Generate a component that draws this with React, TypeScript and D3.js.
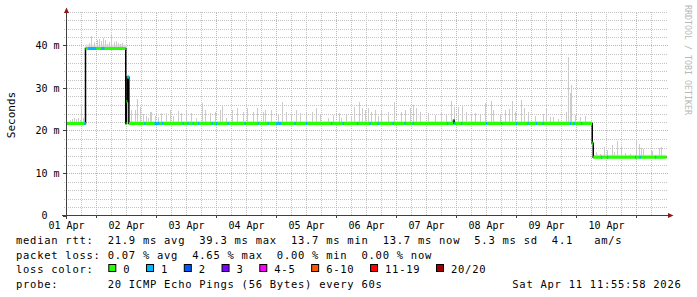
import React from 'react';
import * as d3 from 'd3';

const W = 697;
const H = 297;
const START = new Date(2026, 3, 1, 12, 0, 0);
const END = new Date(2026, 3, 11, 12, 0, 0);

// median rtt as steps: [hours since start, ms]
const medianSteps: [number, number][] = [
  [0, 21.65], [7.6, 39.3], [23.7, 21.65], [24.0, 26.8], [24.35, 32.6], [24.95, 21.65],
  [154.8, 22.4], [155.1, 21.65], [210.3, 17.0], [210.7, 13.7], [240, 13.7],
];

// intervals (hours) with 1 lost ping
const loss1Intervals: [number, number][] = [
  [0, 0.4], [7.1, 7.6], [8.6, 11.9], [13.9, 15.2], [24.35, 24.95], [31.1, 31.6], [35.2, 37.2],
  [38.2, 38.7], [46.4, 46.9], [48.4, 48.9], [50.4, 50.9], [52.6, 53.1], [58, 58.5], [59.8, 60.3],
  [64.4, 64.9], [71.2, 71.7], [76.4, 76.9], [80.4, 80.9], [83.9, 85.9], [91.2, 91.7], [95.8, 96.3],
  [105.8, 106.3], [110.4, 110.9], [116.2, 116.7], [121.2, 121.7], [124.4, 124.9], [130.4, 130.9],
  [135.2, 135.7], [138.4, 138.9], [152.2, 152.7], [155.2, 155.7], [157.8, 158.3], [167.8, 168.3],
  [173.8, 174.3], [179.8, 180.3], [184.4, 184.9], [187.8, 188.3], [190.4, 190.9], [201.4, 201.9],
  [202.8, 203.3], [205.8, 206.3], [213.8, 214.3], [216.2, 216.7], [227.4, 227.9], [229.2, 229.7],
  [235.4, 235.9],
];

// smoke spikes: [hours since start, max rtt ms]
const smokeSpikes: [number, number][] = [
  [1.2, 22.5], [2.0, 22.7], [2.8, 22.9], [3.6, 22.7], [4.4, 22.9], [5.2, 22.5], [5.9, 25.5], [6.4, 22.9],
  [8.8, 40.6], [9.9, 42.2], [10.8, 40.8], [12.0, 41.3], [12.9, 41.5], [13.6, 41.1], [14.4, 41.8],
  [15.2, 41.3], [16.0, 40.4], [16.8, 40.8], [17.9, 42.7], [18.8, 40.8], [19.6, 41.1], [20.4, 40.6],
  [21.2, 40.4], [22.0, 40.6],
  [25.9, 24.8], [27.2, 24.8], [28.2, 27.5], [29.2, 25.5], [30.4, 23.9], [31.6, 23.4], [32.4, 22.9],
  [33.2, 24.4], [33.9, 24.4], [35.2, 23.4], [36.5, 23.2], [37.9, 24.1], [39.9, 24.1], [41.2, 24.8],
  [42.5, 23.4], [44.5, 24.6], [45.9, 24.1], [47.9, 24.6], [49.9, 24.1], [51.9, 22.9], [54.2, 26.5],
  [55.2, 24.8], [57.2, 24.1], [59.2, 24.4], [61.2, 24.8], [62.1, 26.0], [63.9, 22.9], [66.1, 24.8],
  [68.3, 25.3], [70.5, 24.4], [72.1, 25.3], [74.5, 24.4], [76.1, 25.3], [78.5, 24.4], [79.2, 24.8],
  [81.9, 24.8], [84.5, 23.6], [86.2, 26.7], [87.6, 24.4], [89.9, 23.6], [91.9, 24.8], [93.2, 24.1],
  [95.9, 24.1], [98.1, 24.4], [99.9, 25.3], [101.2, 23.6], [104.5, 22.9], [106.4, 23.6], [108.8, 24.1],
  [109.9, 22.9], [111.9, 23.6], [113.9, 23.4], [114.9, 25.5], [116.9, 26.8], [118.1, 25.3], [119.2, 24.8],
  [120.5, 25.3], [121.9, 24.4], [123.2, 24.8], [124.5, 23.4], [125.6, 24.8], [128.5, 24.4], [130.9, 26.8],
  [133.6, 24.4], [135.2, 24.8], [137.2, 25.3], [138.5, 26.0], [139.9, 25.3], [141.6, 24.4], [144.5, 24.1],
  [147.2, 23.6], [149.9, 24.4], [151.6, 23.9], [153.9, 27.0], [155.2, 25.5], [156.5, 25.5], [158.0, 26.0],
  [159.9, 24.4], [161.6, 23.6], [163.2, 24.1], [165.2, 23.6], [167.2, 26.5], [169.6, 26.9], [170.5, 24.8],
  [173.2, 23.9], [175.2, 24.8], [176.9, 25.1], [178.3, 26.9], [179.2, 24.4], [181.9, 27.2], [182.9, 25.3],
  [184.5, 24.4], [187.2, 23.4], [190.5, 23.9], [191.9, 25.1], [193.2, 23.2], [194.5, 23.2], [196.5, 22.7],
  [199.9, 24.4], [200.5, 37.3], [201.2, 28.8], [201.8, 30.7], [203.2, 23.6], [205.2, 23.2], [207.2, 23.4],
  [211.9, 15.0], [213.2, 14.5], [214.9, 16.2], [216.3, 15.4], [218.1, 16.6], [218.9, 15.0], [220.3, 17.6],
  [221.9, 16.2], [223.2, 14.8], [225.2, 14.5], [227.9, 17.9], [228.9, 16.75], [229.9, 15.8], [230.5, 15.65],
  [233.6, 15.2], [234.3, 15.2], [236.9, 15.8], [237.6, 16.2],
];

// low smoke band just above the median: [from h, to h, ms above median]
const smokeFloor: [number, number, number][] = [
  [0, 7.6, 0.5], [7.6, 23.7, 0.9], [24.95, 210.3, 0.6], [210.7, 240, 0.6],
];

const yTicksMajor = [0, 10, 20, 30, 40];
const yMax = 48;

const medianStats = ['21.9 ms avg', '39.3 ms max', '13.7 ms min', '13.7 ms now', '5.3 ms sd', '4.1   am/s'];
const lossStats = ['0.07 % avg', '4.65 % max', '0.00 % min', '0.00 % now'];
const lossLabels = ['0', '1', '2', '3', '4-5', '6-10', '11-19', '20/20'];
const lossColors = ['#26ff00', '#00b8ff', '#0059ff', '#7e00ff', '#ff00ff', '#ff5500', '#ff0000', '#a10000'];
const probeText = '20 ICMP Echo Pings (56 Bytes) every 60s';
const stampText = 'Sat Apr 11 11:55:58 2026';

const MONO = "'DejaVu Sans Mono', monospace";

const hToDate = (h: number) => new Date(START.getTime() + h * 3600e3);

function medianAt(h: number): number {
  let v = medianSteps[0][1];
  for (const [sh, sv] of medianSteps) {
    if (sh <= h) v = sv;
    else break;
  }
  return v;
}

export default function App() {
  const x = d3.scaleTime().domain([START, END]).range([66.5, 666.5]);
  const y = d3.scaleLinear().domain([0, yMax]).range([215.5, 11.5]);
  const X = (h: number) => x(hToDate(h));

  const minorV = d3.timeHour.every(6)!.range(START, END).filter((d) => d.getHours() !== 0 && d > START);
  const majorV = d3.timeDay.range(START, END);
  const dayLabels = d3.timeDay
    .range(d3.timeDay.floor(START), END)
    .map((d) => d3.timeHour.offset(d, 12))
    .filter((d) => d < END);
  const fmt = d3.timeFormat('%d %b');

  const minorH = d3.range(2, yMax + 0.1, 2).filter((v) => v % 10 !== 0);

  const stepLine = d3
    .line<[number, number]>()
    .x((d) => X(d[0]))
    .y((d) => y(d[1]))
    .curve(d3.curveStepAfter);

  const floorArea = (seg: [number, number, number]) => {
    const v = medianAt(seg[0]);
    return { x0: X(seg[0]), x1: X(seg[1]), y0: y(v), y1: y(v + seg[2]) };
  };

  // legend rows
  const cw = 7.05;
  const lx = 16;
  const row1 = 'median rtt:  ' + medianStats.join('  ');
  const row2 = 'packet loss: ' + lossStats.join('  ');
  const boxes: { bx: number; tx: number; label: string; color: string }[] = [];
  let bx = 108.3;
  lossLabels.forEach((label, i) => {
    const tx = bx + 15;
    boxes.push({ bx, tx, label, color: lossColors[i] });
    bx = tx + label.length * cw + 15.7;
  });

  const textStyle: React.CSSProperties = { whiteSpace: 'pre' };

  return (
    <svg
      width={W}
      height={H}
      viewBox={`0 0 ${W} ${H}`}
      style={{ position: 'absolute', left: 0, top: 0, background: '#ffffff' }}
      xmlns="http://www.w3.org/2000/svg"
    >
      <rect x={0} y={0} width={W} height={H} fill="#ffffff" />

      {/* minor grid */}
      <g stroke="#c4c4c4" strokeWidth={1} strokeDasharray="1,1" shapeRendering="crispEdges">
        {minorH.map((v) => (
          <line key={'mh' + v} x1={64} x2={668} y1={Math.round(y(v)) + 0.5} y2={Math.round(y(v)) + 0.5} />
        ))}
        {minorV.map((d) => (
          <line key={'mv' + d.getTime()} x1={Math.floor(x(d)) + 0.5} x2={Math.floor(x(d)) + 0.5} y1={215} y2={12} />
        ))}
      </g>
      {/* major grid */}
      <g stroke="#e8a4a4" strokeWidth={1} strokeDasharray="1,1" shapeRendering="crispEdges">
        {yTicksMajor.filter((v) => v > 0).map((v) => (
          <line key={'Mh' + v} x1={63} x2={668} y1={Math.round(y(v)) + 0.5} y2={Math.round(y(v)) + 0.5} />
        ))}
        {majorV.map((d) => (
          <line key={'Mv' + d.getTime()} x1={Math.floor(x(d)) + 0.5} x2={Math.floor(x(d)) + 0.5} y1={218} y2={12} />
        ))}
      </g>

      {/* smoke floor band */}
      <g fill="#e0e0e0">
        {smokeFloor.map((s, i) => {
          const a = floorArea(s);
          return <rect key={'f' + i} x={a.x0} y={a.y1} width={a.x1 - a.x0} height={a.y0 - a.y1} />;
        })}
      </g>
      {/* smoke spikes */}
      <g fill="#cbcbcb" shapeRendering="crispEdges">
        {smokeSpikes.map(([h, top], i) => {
          const m = medianAt(h);
          const xx = Math.round(X(h));
          return <rect key={'s' + i} x={xx} y={y(top)} width={1} height={y(m) - y(top)} />;
        })}
      </g>

      {/* black median step line */}
      <path d={stepLine(medianSteps) || ''} fill="none" stroke="#000000" strokeWidth={1.5} />

      {/* loss colored median: 0 loss */}
      <g stroke={lossColors[0]} strokeWidth={3}>
        {medianSteps.slice(0, -1).map(([h, v], i) => (
          <line key={'g' + i} x1={X(h)} x2={X(medianSteps[i + 1][0])} y1={y(v)} y2={y(v)} />
        ))}
      </g>
      <g stroke={lossColors[1]} strokeWidth={3}>
        {loss1Intervals.map(([a, b], i) => {
          const v = medianAt(a);
          return <line key={'b' + i} x1={X(a)} x2={X(b)} y1={y(v)} y2={y(v)} />;
        })}
      </g>

      {/* axes */}
      <g stroke="#404040" strokeWidth={1} shapeRendering="crispEdges">
        <line x1={66.5} x2={66.5} y1={219} y2={12} />
        <line x1={62} x2={668} y1={215.5} y2={215.5} />
        {yTicksMajor.map((v) => (
          <line key={'yt' + v} x1={63} x2={66} y1={Math.round(y(v)) + 0.5} y2={Math.round(y(v)) + 0.5} />
        ))}
        {majorV.map((d) => (
          <line key={'xt' + d.getTime()} x1={Math.floor(x(d)) + 0.5} x2={Math.floor(x(d)) + 0.5} y1={216} y2={218} />
        ))}
      </g>
      <path d="M66.5,7.5 L64,13 L69,13 Z" fill="#8b1a1a" />
      <path d="M673.5,215.5 L668,213 L668,218 Z" fill="#8b1a1a" />

      {/* y labels */}
      <g fontFamily={MONO} fontSize={10} fill="#000">
        {yTicksMajor.map((v) => (
          <text
            key={'yl' + v}
            x={v === 0 ? 59.5 - 2 * 6.02 : 59.5}
            y={y(v) + 3.8}
            textAnchor="end"
            style={textStyle}
          >
            {v === 0 ? '0' : `${v} m`}
          </text>
        ))}
        {dayLabels.map((d) => (
          <text key={'xl' + d.getTime()} x={x(d)} y={228.5} textAnchor="middle" style={textStyle}>
            {fmt(d)}
          </text>
        ))}
      </g>

      <text
        x={0}
        y={0}
        transform="translate(14.5,115) rotate(-90)"
        fontFamily={MONO}
        fontSize={11}
        textAnchor="middle"
        fill="#000"
      >
        Seconds
      </text>

      <text
        x={0}
        y={0}
        transform="translate(684.5,60) rotate(90)"
        fontFamily={MONO}
        fontSize={8.3}
        textAnchor="middle"
        fill="#b8b8b8"
        style={textStyle}
      >
        RRDTOOL / TOBI OETIKER
      </text>

      {/* legend */}
      <g fontFamily={MONO} fontSize={10.5} fill="#000" letterSpacing={cw - 10.5 * 0.602}>
        <text x={lx} y={244} style={textStyle}>{row1}</text>
        <text x={lx} y={259} style={textStyle}>{row2}</text>
        <text x={lx} y={273} style={textStyle}>loss color:</text>
        {boxes.map((b) => (
          <g key={'lb' + b.label}>
            <rect x={b.bx + 0.5} y={264.5} width={7} height={7} fill={b.color} stroke="#000" strokeWidth={1} />
            <text x={b.tx} y={273} style={textStyle}>{b.label}</text>
          </g>
        ))}
        <text x={lx} y={287.5} style={textStyle}>{'probe:       ' + probeText}</text>
        <text x={681.5} y={287.5} textAnchor="end" style={textStyle}>{stampText}</text>
      </g>
    </svg>
  );
}
